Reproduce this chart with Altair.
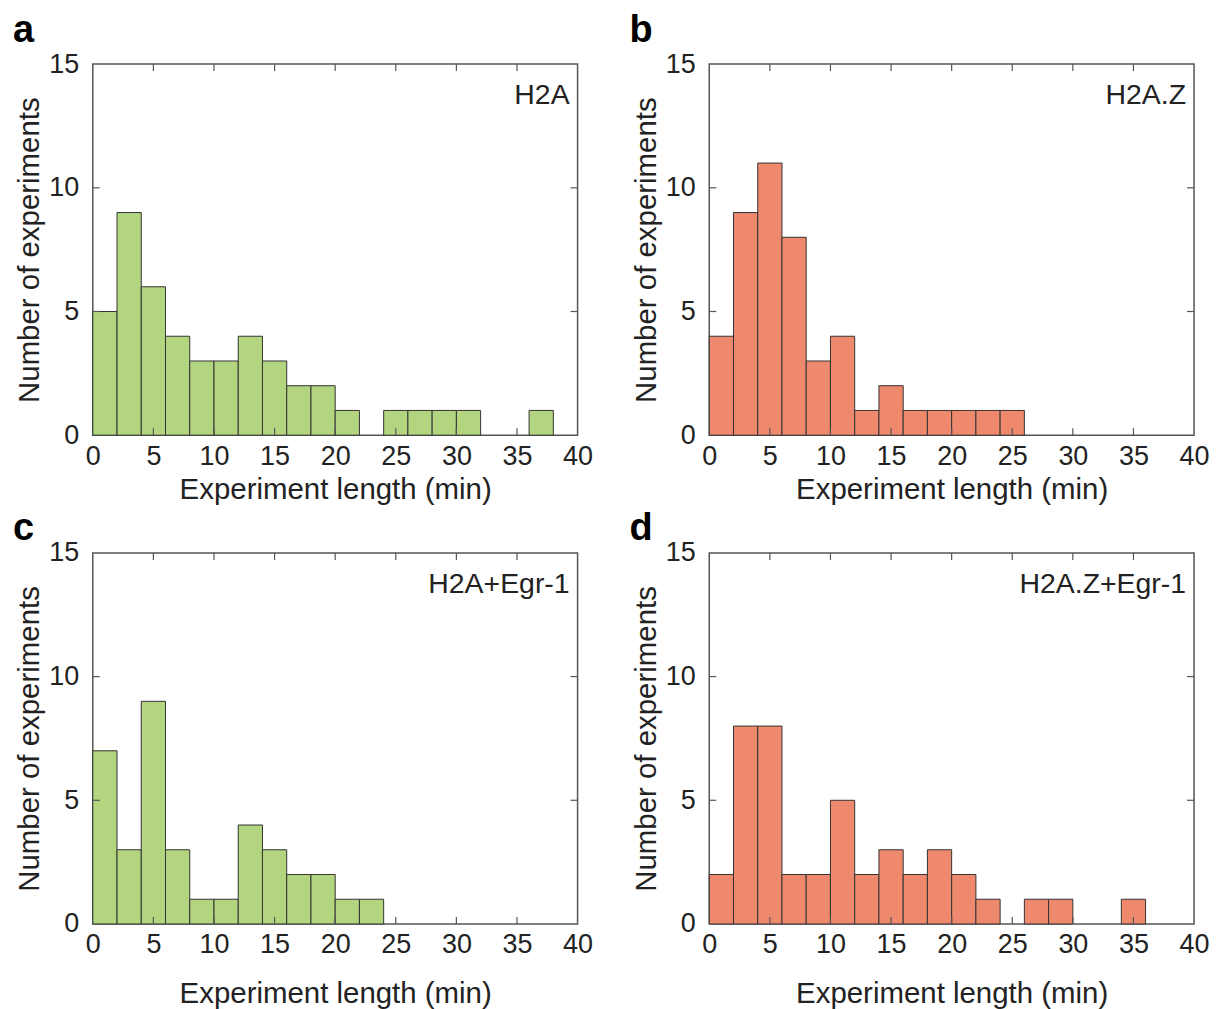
import altair as alt
import pandas as pd

# ---- data (bin width 2 min, bins start at 0) ----
BIN_STARTS = [0, 2, 4, 6, 8, 10, 12, 14, 16, 18, 20, 22, 24, 26, 28, 30, 32, 34, 36, 38]
BIN_WIDTH = 2
H2A = [5, 9, 6, 4, 3, 3, 4, 3, 2, 2, 1, 0, 1, 1, 1, 1, 0, 0, 1]
H2AZ = [4, 9, 11, 8, 3, 4, 1, 2, 1, 1, 1, 1, 1]
H2A_EGR1 = [7, 3, 9, 3, 1, 1, 4, 3, 2, 2, 1, 1]
H2AZ_EGR1 = [2, 8, 8, 2, 2, 5, 2, 3, 2, 3, 2, 1, 0, 1, 1, 0, 0, 1]

PANEL_LETTERS = ["a", "b", "c", "d"]
PANEL_LABELS = ["H2A", "H2A.Z", "H2A+Egr-1", "H2A.Z+Egr-1"]
GREEN = "#b3d580"
SALMON = "#ee896d"

X_TICKS = [0, 5, 10, 15, 20, 25, 30, 35, 40]
X_INNER_TICKS = [5, 10, 15, 20, 25, 30, 35]
Y_TICKS = [0, 5, 10, 15]
Y_INNER_TICKS = [5, 10]

FONT = "Liberation Sans"
W = 486
H = 372
TICK_LEN = 7
EDGE = "#555555"


def panel(counts, letter, label, color, title_pad, letter_y):
    df = pd.DataFrame({"start": BIN_STARTS[: len(counts)], "count": counts})
    df["end"] = df["start"] + BIN_WIDTH
    df["base"] = 0
    df = df[df["count"] > 0]

    xs = alt.Scale(domain=[0, 40], nice=False, zero=False)
    ys = alt.Scale(domain=[0, 15], nice=False)

    xaxis = alt.Axis(values=X_TICKS, title="Experiment length (min)", ticks=False,
                     domain=False, grid=False, labelPadding=8, titlePadding=title_pad,
                     labelFontSize=27, titleFontSize=29.5, labelFlush=False)
    yaxis = alt.Axis(values=Y_TICKS, title="Number of experiments", ticks=False,
                     domain=False, grid=False, labelPadding=14, titlePadding=4,
                     labelFontSize=27, titleFontSize=29.5, labelFlush=False)

    bars = alt.Chart(df).mark_rect(color=color, stroke="#333333", strokeWidth=1).encode(
        x=alt.X("start:Q", scale=xs, axis=xaxis),
        x2="end:Q",
        y=alt.Y("count:Q", scale=ys, axis=yaxis),
        y2="base:Q",
    )

    xt = pd.DataFrame({"v": X_INNER_TICKS})
    yt = pd.DataFrame({"v": Y_INNER_TICKS})
    rule = dict(color=EDGE, strokeWidth=1.2)
    bottom = alt.Chart(xt).mark_rule(**rule).encode(
        x=alt.X("v:Q", scale=xs, axis=xaxis), y=alt.value(H), y2=alt.value(H - TICK_LEN))
    top = alt.Chart(xt).mark_rule(**rule).encode(
        x=alt.X("v:Q", scale=xs, axis=xaxis), y=alt.value(0), y2=alt.value(TICK_LEN))
    left = alt.Chart(yt).mark_rule(**rule).encode(
        y=alt.Y("v:Q", scale=ys, axis=yaxis), x=alt.value(0), x2=alt.value(TICK_LEN))
    right = alt.Chart(yt).mark_rule(**rule).encode(
        y=alt.Y("v:Q", scale=ys, axis=yaxis), x=alt.value(W), x2=alt.value(W - TICK_LEN))

    let = alt.Chart(pd.DataFrame({"t": [letter]})).mark_text(
        align="left", baseline="alphabetic", fontSize=38, fontWeight="bold",
        font=FONT, color="#000000").encode(
        x=alt.value(-80), y=alt.value(letter_y), text="t:N")
    lab = alt.Chart(pd.DataFrame({"t": [label]})).mark_text(
        align="right", baseline="middle", fontSize=28.5, font=FONT,
        color="#222222").encode(
        x=alt.value(W - 8), y=alt.value(31), text="t:N")

    return alt.layer(bars, bottom, top, left, right, let, lab).properties(width=W, height=H)


a = panel(H2A, PANEL_LETTERS[0], PANEL_LABELS[0], GREEN, 6, -22)
b = panel(H2AZ, PANEL_LETTERS[1], PANEL_LABELS[1], SALMON, 6, -22)
c = panel(H2A_EGR1, PANEL_LETTERS[2], PANEL_LABELS[2], GREEN, 22, -13)
d = panel(H2AZ_EGR1, PANEL_LETTERS[3], PANEL_LABELS[3], SALMON, 22, -13)

row1 = alt.hconcat(a, b, spacing=35)
row2 = alt.hconcat(c, d, spacing=35)
chart = alt.vconcat(row1, row2, spacing=4).properties(
    padding={"left": 4, "top": 2, "right": 4, "bottom": 4},
    background="#ffffff",
).configure_view(
    stroke=EDGE, strokeWidth=1.5
).configure_axis(
    labelFont=FONT, titleFont=FONT, labelColor="#222222", titleColor="#222222",
    titleFontWeight="normal"
)

chart.save("out.html", embed_options={"renderer": "svg", "actions": False})
